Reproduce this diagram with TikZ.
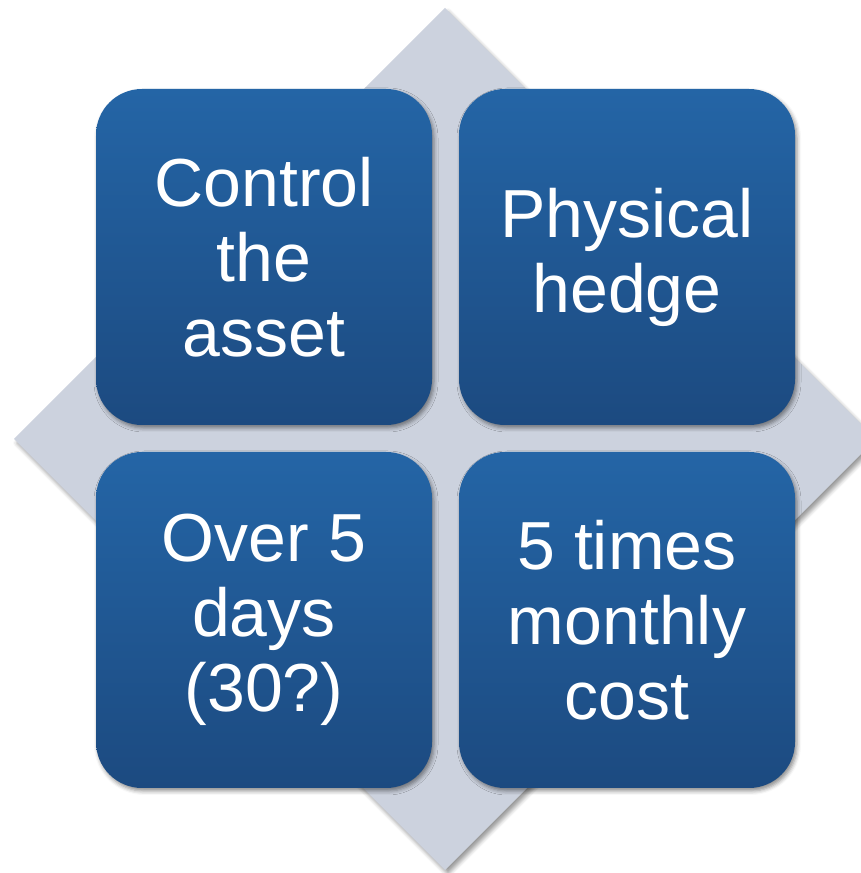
\documentclass[tikz,border=0pt]{standalone}
\usepackage{fontspec}
\setmainfont{Liberation Sans}
\usetikzlibrary{shadows.blur}
\definecolor{diam}{RGB}{204,210,222}
\definecolor{btop}{RGB}{36,101,166}
\definecolor{bbot}{RGB}{28,74,128}
\begin{document}
\begin{tikzpicture}[x=1pt,y=1pt,
  card/.style={shape=rectangle, rounded corners=46pt, top color=btop, bottom color=bbot, draw=none,
    minimum width=336pt, minimum height=336pt, inner sep=0pt,
    blur shadow={shadow xshift=2pt, shadow yshift=-3pt, shadow blur radius=4pt, shadow opacity=45},
    text=white, font=\fontsize{68}{75}\selectfont, align=center},
  diamondbg/.style={fill=diam, blur shadow={shadow xshift=3pt, shadow yshift=-4pt, shadow blur radius=4pt, shadow opacity=40}}]
\useasboundingbox (0,0) rectangle (861,873);
\clip (0,0) rectangle (861,873);
\coordinate (dt) at (445,865);
\coordinate (dr) at (876,434);
\coordinate (db) at (445,3);
\coordinate (dl) at (14,434);
\path[diamondbg] (dt) -- (dr) -- (db) -- (dl) -- cycle;
\node[card] (tl) at (264,616) {Control\\the\\asset};
\node[card] (tr) at (627,616) {Physical\\hedge};
\node[card] (bl) at (264,253) {Over 5\\days\\(30?)};
\node[card] (br) at (627,253) {5 times\\monthly\\cost};
\end{tikzpicture}
\end{document}
